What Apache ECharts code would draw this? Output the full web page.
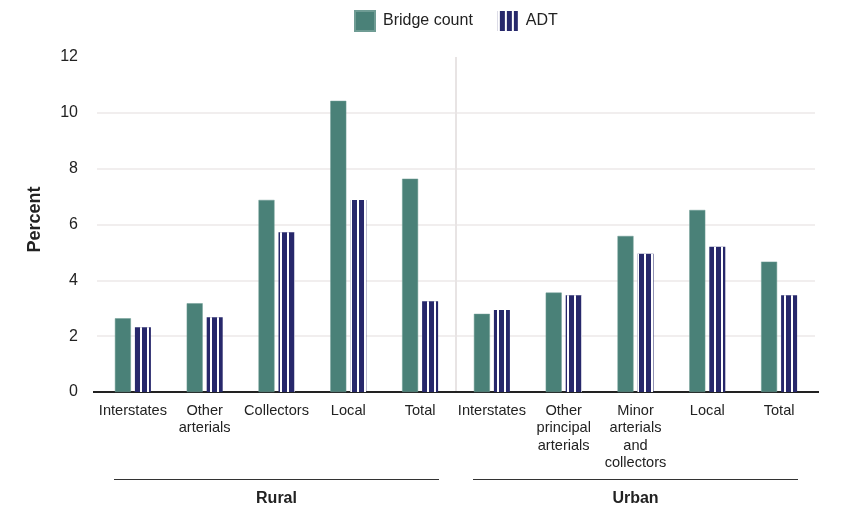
<!DOCTYPE html>
<html>
<head>
<meta charset="utf-8">
<script src="https://cdn.jsdelivr.net/npm/echarts@6/dist/echarts.min.js"></script>
<style>
  html, body { margin: 0; padding: 0; background: #fff; }
  #main { width: 848px; height: 524px; }
</style>
</head>
<body>
<div id="main"></div>
<script>
const categories = [
    'Interstates', 'Other\narterials', 'Collectors', 'Local', 'Total',
    'Interstates', 'Other\nprincipal\narterials', 'Minor\narterials\nand\ncollectors', 'Local', 'Total'
]
const groups = ['Rural', 'Urban']
const bridgeCount = [2.64, 3.18, 6.88, 10.43, 7.64, 2.80, 3.56, 5.59, 6.52, 4.67]
const adt = [2.32, 2.68, 5.72, 6.88, 3.25, 2.94, 3.47, 4.95, 5.20, 3.47]

const font = '"Liberation Sans", Arial, sans-serif'
const teal = '#4a8178'
const navy = '#27286b'

let myChart = echarts.init(document.getElementById('main'))

let option = {
    backgroundColor: '#ffffff',
    animation: false,
    legend: {
        top: 5,
        left: 349,
        icon: 'rect',
        itemWidth: 20,
        itemHeight: 20,
        itemGap: 25,
        textStyle: {fontFamily: font, fontSize: 16, color: '#222', padding: [0, 0, 0, 3]},
        data: ['Bridge count', 'ADT']
    },
    grid: {left: 97, right: 33, top: 57, bottom: 132},
    xAxis: [
        {
            type: 'category',
            data: categories,
            axisLine: {lineStyle: {color: '#222', width: 2}},
            axisTick: {show: false},
            axisLabel: {
                interval: 0,
                margin: 10,
                fontFamily: font,
                fontSize: 14.6,
                lineHeight: 17.5,
                color: '#222',
                verticalAlign: 'top'
            },
            splitLine: {show: false}
        },
        {
            type: 'category',
            data: groups,
            position: 'bottom',
            offset: 91,
            axisLine: {show: false},
            axisTick: {show: false},
            axisLabel: {fontFamily: font, fontSize: 16, fontWeight: 'bold', color: '#222'}
        }
    ],
    yAxis: {
        type: 'value',
        min: 0,
        max: 12,
        interval: 2,
        name: 'Percent',
        nameLocation: 'middle',
        nameGap: 53,
        nameTextStyle: {fontFamily: font, fontSize: 18, fontWeight: 'bold', color: '#222', padding: [0, 0, 0, 10]},
        axisLine: {show: false},
        axisTick: {show: false},
        axisLabel: {fontFamily: font, fontSize: 16, color: '#222', margin: 19},
        splitLine: {
            lineStyle: {
                color: ['#ece8e8', '#ece8e8', '#ece8e8', '#ece8e8', '#ece8e8', '#ece8e8', 'rgba(0,0,0,0)'],
                width: 1.5
            }
        }
    },
    series: [
        {
            name: 'Bridge count',
            type: 'bar',
            data: bridgeCount,
            barWidth: 16,
            barGap: '25%',
            itemStyle: {color: teal, borderColor: '#6f9c94', borderWidth: 0.5}
        },
        {
            name: 'ADT',
            type: 'bar',
            data: adt,
            barWidth: 16,
            itemStyle: {
                color: navy,
                decal: {
                    symbol: 'rect',
                    symbolSize: 1,
                    color: '#ffffff',
                    dashArrayX: [1.5, 4.5],
                    dashArrayY: [100, 0],
                    rotation: 0
                }
            }
        }
    ]
}

myChart.setOption(option)

// divider between the groups, underline segments below the category labels
const makeDecor = () => {
    let c0 = myChart.convertToPixel({xAxisIndex: 1}, groups[0])
    let c1 = myChart.convertToPixel({xAxisIndex: 1}, groups[1])
    let half = (c1 - c0) / 2 - 17
    let mid = (c0 + c1) / 2
    let yTop = myChart.convertToPixel({yAxisIndex: 0}, 12)
    let yBot = myChart.convertToPixel({yAxisIndex: 0}, 0)
    let items = [c0, c1].map((c) => ({
        type: 'line',
        shape: {x1: c - half, y1: 479.5, x2: c + half, y2: 479.5},
        style: {stroke: '#333', lineWidth: 1.2}
    }))
    items.push({
        type: 'line',
        z: 0,
        shape: {x1: mid, y1: yTop, x2: mid, y2: yBot},
        style: {stroke: '#e8e4e4', lineWidth: 2}
    })
    // axis line runs a little past the plot edges
    items.push({
        type: 'line',
        shape: {x1: c0 - (c1 - c0) / 2 - 4, y1: yBot, x2: c1 + (c1 - c0) / 2 + 4, y2: yBot},
        style: {stroke: '#222', lineWidth: 2}
    })
    myChart.setOption({graphic: items})
}
makeDecor()
</script>
</body>
</html>
